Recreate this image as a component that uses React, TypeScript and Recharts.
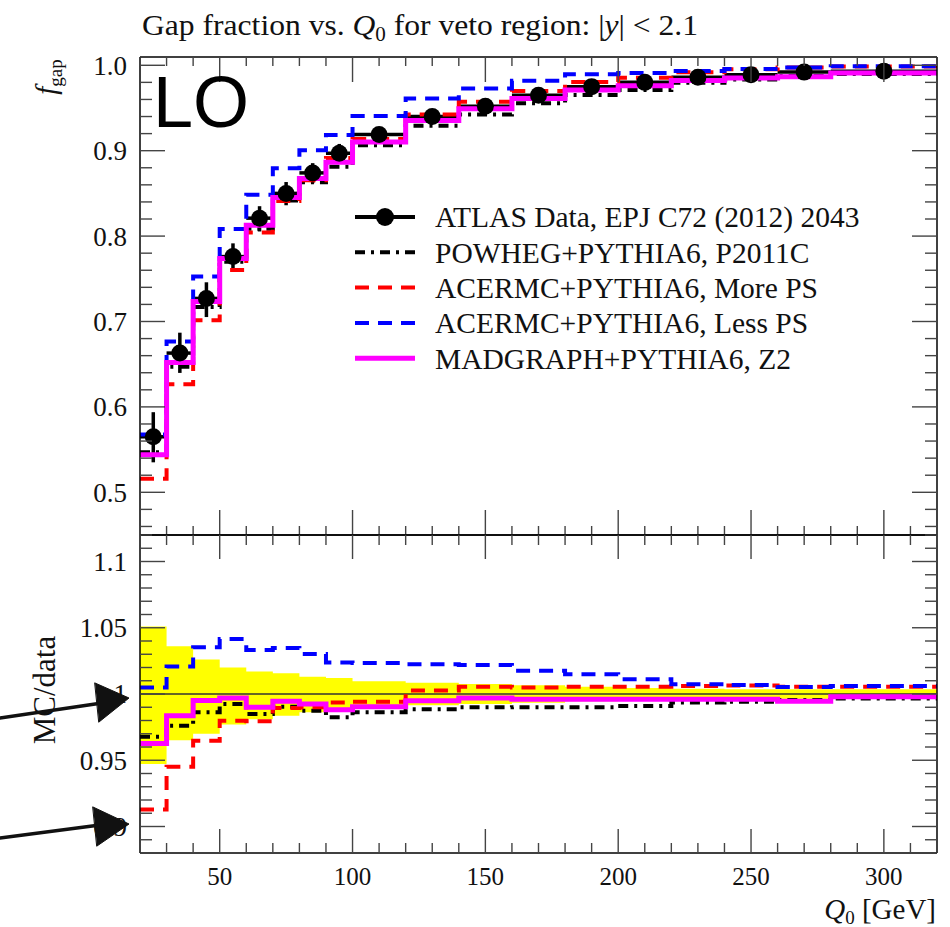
import React from 'react'
import {
  Area,
  ComposedChart,
  ErrorBar,
  Legend,
  Line,
  ReferenceLine,
  Scatter,
  XAxis,
  YAxis,
} from 'recharts'

// bins in Q0 [GeV]
const binEdges = [20, 30, 40, 50, 60, 70, 80, 90, 100, 120, 140, 160, 180, 200, 220, 240, 260, 280, 320]

// ATLAS data, gap fraction per bin
const dataValues = [0.565, 0.663, 0.727, 0.776, 0.821, 0.85, 0.874, 0.897, 0.919, 0.94, 0.952, 0.965, 0.975, 0.98, 0.986, 0.989, 0.992, 0.993]
const dataErrUp = [0.0288, 0.0239, 0.0189, 0.0155, 0.014, 0.0133, 0.0114, 0.0109, 0.0088, 0.008, 0.0071, 0.0063, 0.0054, 0.0044, 0.0039, 0.0035, 0.0035, 0.0035]
const dataErrDown = [0.0299, 0.0232, 0.0218, 0.0178, 0.0156, 0.0139, 0.0121, 0.0113, 0.0092, 0.008, 0.0071, 0.0063, 0.0054, 0.0044, 0.0039, 0.0035, 0.0035, 0.0035]

// MC predictions
const powheg = [0.5468, 0.6471, 0.717, 0.7701, 0.8086, 0.8418, 0.863, 0.8812, 0.9063, 0.9291, 0.9425, 0.9554, 0.9653, 0.9712, 0.9796, 0.9833, 0.9875, 0.9897]
const acerMorePS = [0.5158, 0.6266, 0.7014, 0.7604, 0.8041, 0.841, 0.8653, 0.8913, 0.9137, 0.9424, 0.9572, 0.9698, 0.9804, 0.9854, 0.9919, 0.9954, 0.9975, 0.9985]
const acerLessPS = [0.5678, 0.6767, 0.7526, 0.8082, 0.8483, 0.8795, 0.9004, 0.9184, 0.9405, 0.9611, 0.9728, 0.982, 0.9895, 0.991, 0.9932, 0.9957, 0.9973, 0.999]
const madgraph = [0.5439, 0.6521, 0.7234, 0.7737, 0.8128, 0.8453, 0.8674, 0.8864, 0.9102, 0.9353, 0.9491, 0.9611, 0.9711, 0.9761, 0.9821, 0.985, 0.9865, 0.991]

// axis ticks
const xTicks = Array.from({ length: 31 }, (_, i) => 20 + 10 * i)
const xMajor = [50, 100, 150, 200, 250, 300]
const xLabels = ['50', '100', '150', '200', '250', '300']
const topYTicks = Array.from({ length: 28 }, (_, i) => Math.round((0.46 + 0.02 * i) * 100) / 100)
const topYMajor = [0.5, 0.6, 0.7, 0.8, 0.9, 1.0]
const topYLabels = ['0.5', '0.6', '0.7', '0.8', '0.9', '1.0']
const ratioYTicks = Array.from({ length: 24 }, (_, i) => Math.round((0.89 + 0.01 * i) * 100) / 100)
const ratioYMajor = [0.9, 0.95, 1, 1.05, 1.1]
const ratioYLabels = ['0.9', '0.95', '1', '1.05', '1.1']

const legendLabels = [
  'ATLAS Data, EPJ C72 (2012) 2043',
  'POWHEG+PYTHIA6, P2011C',
  'ACERMC+PYTHIA6, More PS',
  'ACERMC+PYTHIA6, Less PS',
  'MADGRAPH+PYTHIA6, Z2',
]

const SERIF = '"Liberation Serif", "DejaVu Serif", serif'

const seriesStyles = [
  { key: 'powheg', color: '#000000', dash: '10 6 3 6', width: 4 },
  { key: 'more', color: '#ff0000', dash: '14 9', width: 4 },
  { key: 'less', color: '#0000ff', dash: '14 9', width: 4 },
  { key: 'mg', color: '#ff00ff', dash: undefined, width: 5 },
]

const last = binEdges.length - 2

const topSteps = binEdges.map((x, i) => {
  const b = Math.min(i, last)
  return { x, powheg: powheg[b], more: acerMorePS[b], less: acerLessPS[b], mg: madgraph[b] }
})

const ratioSteps = binEdges.map((x, i) => {
  const b = Math.min(i, last)
  const d = dataValues[b]
  return {
    x,
    band: [1 - dataErrDown[b] / d, 1 + dataErrUp[b] / d],
    powheg: powheg[b] / d,
    more: acerMorePS[b] / d,
    less: acerLessPS[b] / d,
    mg: madgraph[b] / d,
  }
})

const dataPoints = dataValues.map((y, i) => ({
  x: (binEdges[i] + binEdges[i + 1]) / 2,
  y,
  ex: (binEdges[i + 1] - binEdges[i]) / 2,
  ey: [dataErrDown[i], dataErrUp[i]],
}))

type Side = 'left' | 'right' | 'top' | 'bottom'

function tickRenderer(side: Side, majors: number[], labels: string[] | null, majorLen: number, minorLen: number) {
  return (props: any) => {
    const { x, y, payload } = props
    const v = payload.value
    const idx = majors.findIndex((m) => Math.abs(m - v) < 1e-6)
    const len = idx >= 0 ? majorLen : minorLen
    let x2 = x
    let y2 = y
    if (side === 'left') x2 = x + len
    if (side === 'right') x2 = x - len
    if (side === 'top') y2 = y + len
    if (side === 'bottom') y2 = y - len
    const label = idx >= 0 && labels ? labels[idx] : null
    return (
      <g>
        <line x1={x} y1={y} x2={x2} y2={y2} stroke="#444" strokeWidth={1.4} />
        {label && side === 'left' && (
          <text x={x - 13} y={y} dy="0.35em" textAnchor="end" fontFamily={SERIF} fontSize={27} fill="#111">
            {label}
          </text>
        )}
        {label && side === 'bottom' && (
          <text x={x} y={y + 32} textAnchor="middle" fontFamily={SERIF} fontSize={25} fill="#111">
            {label}
          </text>
        )}
      </g>
    )
  }
}

const axisLine = { stroke: '#000', strokeWidth: 1.5 }

function LegendBox() {
  const rowGap = 35.3
  return (
    <svg width={580} height={180}>
      {legendLabels.map((label, i) => {
        const cy = 22 + i * rowGap
        const st = i === 0 ? null : seriesStyles[i - 1]
        return (
          <g key={label}>
            {st ? (
              <line x1={5} y1={cy} x2={65} y2={cy} stroke={st.color} strokeWidth={st.width} strokeDasharray={st.dash} />
            ) : (
              <g>
                <line x1={5} y1={cy} x2={65} y2={cy} stroke="#000" strokeWidth={4} />
                <circle cx={35} cy={cy} r={9} fill="#000" />
              </g>
            )}
            <text x={85} y={cy} dy="0.35em" fontFamily={SERIF} fontSize={29.5} fill="#111">
              {label}
            </text>
          </g>
        )
      })}
    </svg>
  )
}

function TopPanel() {
  return (
    <ComposedChart
      width={950}
      height={560}
      data={topSteps}
      margin={{ top: 37, right: 3, bottom: 5, left: 80 }}
    >
      <XAxis xAxisId="b" dataKey="x" type="number" domain={[20, 320]} allowDataOverflow ticks={xTicks} interval={0}
        height={20} tickSize={0} tickMargin={0} axisLine={axisLine} tickLine={false}
        tick={tickRenderer('bottom', xMajor, null, 25, 9)} />
      <XAxis xAxisId="t" orientation="top" dataKey="x" type="number" domain={[20, 320]} allowDataOverflow ticks={xTicks}
        interval={0} height={20} tickSize={0} tickMargin={0} axisLine={axisLine} tickLine={false}
        tick={tickRenderer('top', xMajor, null, 25, 9)} />
      <YAxis yAxisId="l" type="number" domain={[0.45, 1.0097]} allowDataOverflow ticks={topYTicks} interval={0}
        width={60} tickSize={0} tickMargin={0} axisLine={axisLine} tickLine={false}
        tick={tickRenderer('left', topYMajor, topYLabels, 25, 12)} />
      <YAxis yAxisId="r" orientation="right" type="number" domain={[0.45, 1.0097]} allowDataOverflow ticks={topYTicks}
        interval={0} width={10} tickSize={0} tickMargin={0} axisLine={axisLine} tickLine={false}
        tick={tickRenderer('right', topYMajor, null, 25, 12)} />
      <Scatter xAxisId="b" yAxisId="l" data={dataPoints} dataKey="y" isAnimationActive={false}
        shape={(p: any) => <circle cx={p.cx} cy={p.cy} r={8.5} fill="#000" />}>
        <ErrorBar dataKey="ey" direction="y" width={0} stroke="#000" strokeWidth={3.5} isAnimationActive={false} />
        <ErrorBar dataKey="ex" direction="x" width={0} stroke="#000" strokeWidth={3.5} isAnimationActive={false} />
      </Scatter>
      {seriesStyles.map((s) => (
        <Line key={s.key} xAxisId="b" yAxisId="l" type="stepAfter" dataKey={s.key} stroke={s.color}
          strokeWidth={s.width} strokeDasharray={s.dash} dot={false} isAnimationActive={false} />
      ))}
      <Legend layout="vertical" align="center" verticalAlign="middle"
        wrapperStyle={{ position: 'absolute', left: 350, top: 195, width: 580 }} content={() => <LegendBox />} />
    </ComposedChart>
  )
}

function RatioPanel() {
  return (
    <ComposedChart
      width={950}
      height={412}
      data={ratioSteps}
      margin={{ top: 0, right: 3, bottom: 14, left: 80 }}
    >
      <XAxis xAxisId="b" dataKey="x" type="number" domain={[20, 320]} allowDataOverflow ticks={xTicks} interval={0}
        height={60} tickSize={0} tickMargin={0} axisLine={axisLine} tickLine={false}
        tick={tickRenderer('bottom', xMajor, xLabels, 24, 10)} />
      <XAxis xAxisId="t" orientation="top" dataKey="x" type="number" domain={[20, 320]} allowDataOverflow ticks={xTicks}
        interval={0} height={20} tickSize={0} tickMargin={0} axisLine={axisLine} tickLine={false}
        tick={tickRenderer('top', xMajor, null, 24, 10)} />
      <YAxis yAxisId="l" type="number" domain={[0.88, 1.12]} allowDataOverflow ticks={ratioYTicks} interval={0}
        width={60} tickSize={0} tickMargin={0} axisLine={axisLine} tickLine={false}
        tick={tickRenderer('left', ratioYMajor, ratioYLabels, 25, 12)} />
      <YAxis yAxisId="r" orientation="right" type="number" domain={[0.88, 1.12]} allowDataOverflow ticks={ratioYTicks}
        interval={0} width={10} tickSize={0} tickMargin={0} axisLine={axisLine} tickLine={false}
        tick={tickRenderer('right', ratioYMajor, null, 25, 12)} />
      <Area xAxisId="b" yAxisId="l" type="stepAfter" dataKey="band" stroke="none" fill="#ffff00" fillOpacity={1}
        isAnimationActive={false} />
      <ReferenceLine xAxisId="b" yAxisId="l" y={1} stroke="#333" strokeWidth={1.5} />
      {seriesStyles.map((s) => (
        <Line key={s.key} xAxisId="b" yAxisId="l" type="stepAfter" dataKey={s.key} stroke={s.color}
          strokeWidth={s.width} strokeDasharray={s.dash} dot={false} isAnimationActive={false} />
      ))}
    </ComposedChart>
  )
}

export default function App() {
  return (
    <div style={{ position: 'absolute', left: 0, top: 0, width: 950, height: 927, background: '#fff' }}>
      <div style={{ position: 'absolute', left: 0, top: 0 }}>
        <TopPanel />
      </div>
      <div style={{ position: 'absolute', left: 0, top: 515 }}>
        <RatioPanel />
      </div>
      <svg width={950} height={927} style={{ position: 'absolute', left: 0, top: 0, pointerEvents: 'none' }}>
        <text x={142} y={35} fontFamily={SERIF} fontSize={30} fill="#111" textLength={556} lengthAdjust="spacingAndGlyphs">
          Gap fraction vs. <tspan fontStyle="italic">Q</tspan>
          <tspan fontSize={20} dy={6}>0</tspan>
          <tspan dy={-6}> for veto region: |</tspan>
          <tspan fontStyle="italic">y</tspan>| &lt; 2.1
        </text>
        <text x={153} y={127} fontFamily='"Liberation Sans", Arial, sans-serif' fontSize={72} fill="#000">
          LO
        </text>
        <text transform="translate(56,77) rotate(-90)" textAnchor="middle" fontFamily={SERIF} fontSize={29} fill="#111">
          <tspan fontStyle="italic">f</tspan>
          <tspan fontSize={19} dy={6}>gap</tspan>
        </text>
        <text transform="translate(55,690) rotate(-90)" textAnchor="middle" fontFamily={SERIF} fontSize={31} fill="#111">
          MC/data
        </text>
        <text x={936} y={919} textAnchor="end" fontFamily={SERIF} fontSize={29} fill="#111">
          <tspan fontStyle="italic">Q</tspan>
          <tspan fontSize={19} dy={5}>0</tspan>
          <tspan dy={-5}> [GeV]</tspan>
        </text>
        {/* hand-drawn arrows over the ratio axis labels */}
        <g stroke="#111" fill="#111" strokeLinecap="round">
          <line x1={0} y1={718} x2={102} y2={703} strokeWidth={3.5} />
          <polygon points="95,683 129,698 99,722" />
          <line x1={0} y1={838} x2={100} y2={825} strokeWidth={3.5} />
          <polygon points="93,807 129,824 97,846" />
        </g>
      </svg>
    </div>
  )
}
